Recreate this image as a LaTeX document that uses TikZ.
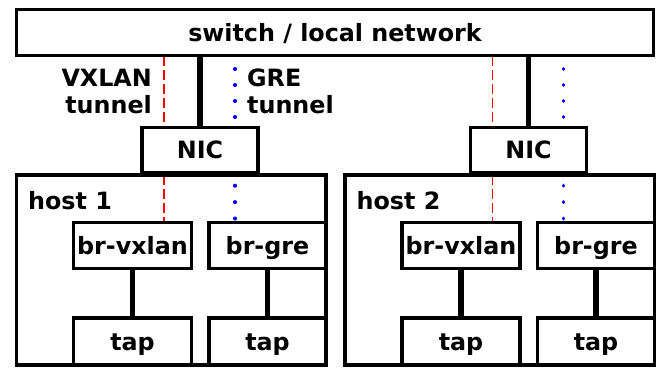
\documentclass[tikz,border=0pt]{standalone}
\usepackage{fontspec}
\setmainfont{DejaVu Sans}
\usetikzlibrary{backgrounds}
\newcommand\lblfont{\fontsize{23.8}{27}\selectfont\bfseries}
\tikzset{
  frame/.style={draw, line width=3.8pt, inner sep=0pt, outer sep=0pt},
  box/.style={frame, text height=17.3pt, text depth=0pt, font=\lblfont},
  wide/.style={minimum width=118pt, minimum height=46pt},
  narrow/.style={minimum width=117pt, minimum height=46pt},
  tapbox/.style={minimum height=47pt},
  label/.style={inner sep=0pt, font=\lblfont},
  wire/.style={line width=5.8pt},
  vxlan/.style={draw=red, line width=1.8pt, dash pattern=on 10pt off 4pt},
  gre/.style={draw=blue, line width=3.2pt, line cap=round},
  greup/.style={gre, dash pattern=on 0.8pt off 15.2pt, dash phase=2.9pt},
  grein/.style={gre, dash pattern=on 0.8pt off 15.6pt, dash phase=6.1pt}
}
\begin{document}
\begin{tikzpicture}[x=1pt, y=-1pt]
\useasboundingbox (0,0) rectangle (659,368);

% shared network
\node[box, minimum width=637pt, minimum height=46pt] (switch) at (335,32.5) {switch / local network};

% host 1
\node[frame, minimum width=309.5pt, minimum height=190pt] (host1) at (171.25,270) {};
\node[box, minimum width=116pt, minimum height=45pt] (nic1) at (200,150) {NIC};
\node[box, wide] (brv1) at (132.5,245.5) {br-vxlan};
\node[box, narrow] (brg1) at (267.5,245.5) {br-gre};
\node[box, wide, tapbox] (tapv1) at (132.5,341.5) {tap};
\node[box, narrow, tapbox] (tapg1) at (267.5,341.5) {tap};
\node[label, anchor=base west] (h1) at (28,209) {host 1};

% host 2
\node[frame, minimum width=309.5pt, minimum height=190pt] (host2) at (499.75,270) {};
\node[box, minimum width=116pt, minimum height=45pt] (nic2) at (528.5,150) {NIC};
\node[box, wide] (brv2) at (461,245.5) {br-vxlan};
\node[box, narrow] (brg2) at (596,245.5) {br-gre};
\node[box, wide, tapbox] (tapv2) at (461,341.5) {tap};
\node[box, narrow, tapbox] (tapg2) at (596,341.5) {tap};
\node[label, anchor=base west] (h2) at (356.5,209) {host 2};

% tunnel captions
\node[label, anchor=base east] (vxa) at (152,86) {VXLAN};
\node[label, anchor=base east] (vxb) at (152,113) {tunnel};
\node[label, anchor=base west] (gra) at (247,86) {GRE};
\node[label, anchor=base west] (grb) at (247,113) {tunnel};

% tunnel tracks
\coordinate (vx1) at (164,0);
\coordinate (gr1) at (235,0);
\coordinate (vx2) at (492.5,0);
\coordinate (gr2) at (563.5,0);

\begin{pgfonlayer}{background}
  % physical links and bridge ports
  \draw[wire] (switch.south -| nic1) -- (nic1.north);
  \draw[wire] (switch.south -| nic2) -- (nic2.north);
  \draw[wire] (brv1.south) -- (tapv1.north);
  \draw[wire] (brg1.south) -- (tapg1.north);
  \draw[wire] (brv2.south) -- (tapv2.north);
  \draw[wire] (brg2.south) -- (tapg2.north);
  % VXLAN tunnel
  \draw[vxlan] (switch.south -| vx1) -- (nic1.north -| vx1);
  \draw[vxlan] (host1.north -| vx1) -- (brv1.north -| vx1);
  \draw[vxlan] (switch.south -| vx2) -- (nic2.north -| vx2);
  \draw[vxlan] (host2.north -| vx2) -- (brv2.north -| vx2);
  % GRE tunnel
  \draw[greup] (switch.south -| gr1) -- (nic1.north -| gr1);
  \draw[grein] (host1.north -| gr1) -- (brg1.north -| gr1);
  \draw[greup] (switch.south -| gr2) -- (nic2.north -| gr2);
  \draw[grein] (host2.north -| gr2) -- (brg2.north -| gr2);
\end{pgfonlayer}
\end{tikzpicture}
\end{document}
